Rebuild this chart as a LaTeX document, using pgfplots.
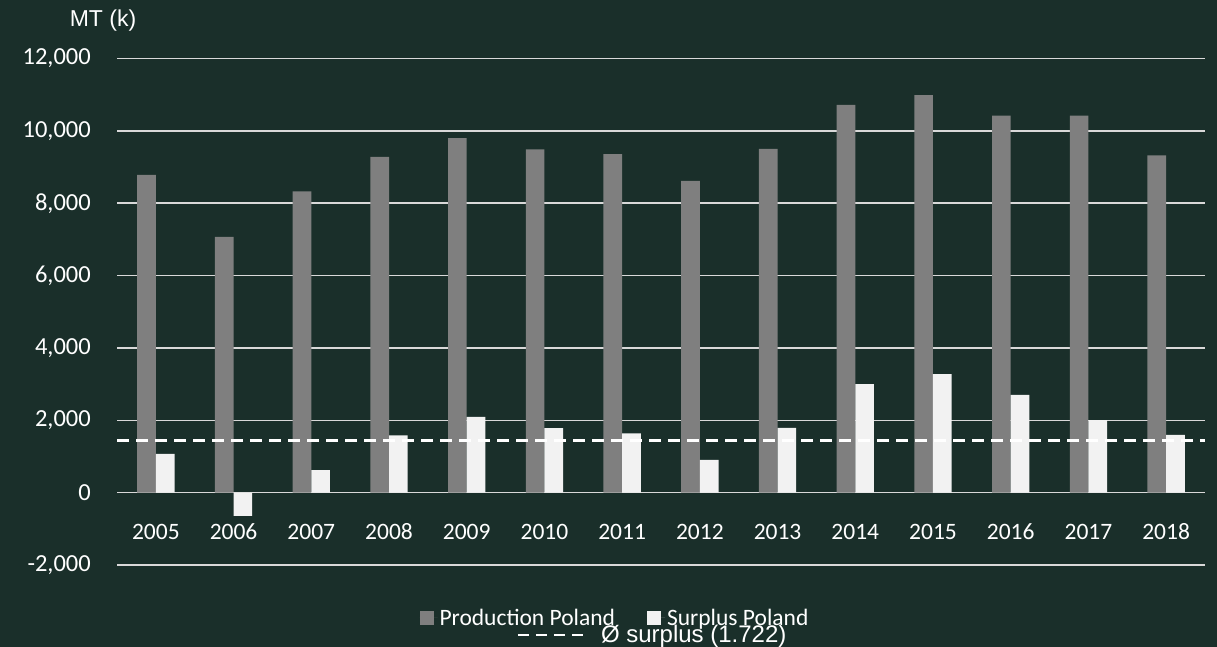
\documentclass[border=0pt]{standalone}
\usepackage{fontspec}
\setmainfont{Carlito}
\newfontfamily\arialf{Liberation Sans}
\usepackage{pgfplots}
\pgfplotsset{compat=1.18}
\definecolor{bg}{HTML}{1A2F2A}
\definecolor{prod}{HTML}{7F7F7F}
\definecolor{surp}{HTML}{F2F2F2}
\definecolor{gridc}{HTML}{D9D9D9}
\begin{document}
\begin{tikzpicture}
\fill[bg] (0,0) rectangle (1217pt,647pt);
\useasboundingbox (0,0) rectangle (1217pt,647pt);
\node[text=white, font=\arialf\fontsize{23}{27}\selectfont] at (103pt,626pt) {MT (k)};
\begin{axis}[
  at={(117pt,82pt)}, anchor=south west,
  scale only axis, width=1088pt, height=506.5pt,
  xmin=-0.5, xmax=13.5, ymin=-2000, ymax=12000,
  axis line style={draw=none},
  major tick length=0pt,
  scaled y ticks=false,
  ytick={-2000,0,2000,4000,6000,8000,10000,12000},
  yticklabels={{-2,000},{0},{2,000},{4,000},{6,000},{8,000},{10,000},{12,000}},
  xtick={0,1,2,3,4,5,6,7,8,9,10,11,12,13},
  xticklabels={2005,2006,2007,2008,2009,2010,2011,2012,2013,2014,2015,2016,2017,2018},
  ymajorgrids, grid style={gridc, line width=1.5pt},
  tick label style={text=white, font=\fontsize{23.5}{28}\selectfont},
  yticklabel style={anchor=east, inner sep=0pt, xshift=-26pt, font=\fontsize{24.5}{28}\selectfont},
  xticklabel style={anchor=center, inner sep=0pt, yshift=33pt},
  legend columns=2,
  legend image code/.code={\path (0pt,0pt) -- (18pt,0pt);\fill[#1] (0pt,-7pt) rectangle (14pt,7pt);},
  legend style={at={(0.4577,-0.1046)}, anchor=center, draw=none, fill=none,
    text=white, font=\fontsize{23.5}{28}\selectfont,
    nodes={inner sep=2pt},
    /tikz/every even column/.append style={column sep=30pt}},
]
\addplot[ybar, bar width=0.24, bar shift=-0.12, fill=prod, draw=none] coordinates {
(0,8780) (1,7070) (2,8330) (3,9280) (4,9800) (5,9490) (6,9360)
(7,8620) (8,9500) (9,10720) (10,10990) (11,10420) (12,10420) (13,9320)};
\addlegendentry{Production Poland}
\addplot[ybar, bar width=0.24, bar shift=0.12, fill=surp, draw=none] coordinates {
(0,1070) (1,-645) (2,620) (3,1580) (4,2095) (5,1780) (6,1640)
(7,905) (8,1790) (9,3000) (10,3275) (11,2700) (12,2005) (13,1595)};
\addlegendentry{Surplus Poland}
\addplot[white, line width=3pt, dash pattern=on 12pt off 7pt, forget plot] coordinates {(-0.5,1450) (13.5,1450)};
\end{axis}
\begin{axis}[
  at={(117pt,82pt)}, anchor=south west,
  scale only axis, width=1088pt, height=506.5pt,
  hide axis, xmin=0, xmax=1, ymin=0, ymax=1,
  legend image code/.code={\draw[#1] (0pt,0pt) -- (65pt,0pt);},
  legend style={at={(0.4926,-0.138)}, anchor=center, draw=none, fill=none,
    text=white, font=\arialf\fontsize{24}{28}\selectfont,
    nodes={inner sep=3pt},
    /tikz/every odd column/.append style={column sep=14pt}},
]
\addlegendimage{white, line width=2.5pt, dash pattern=on 11pt off 7pt}
\addlegendentry{Ø surplus (1.722)}
\end{axis}
\end{tikzpicture}
\end{document}
